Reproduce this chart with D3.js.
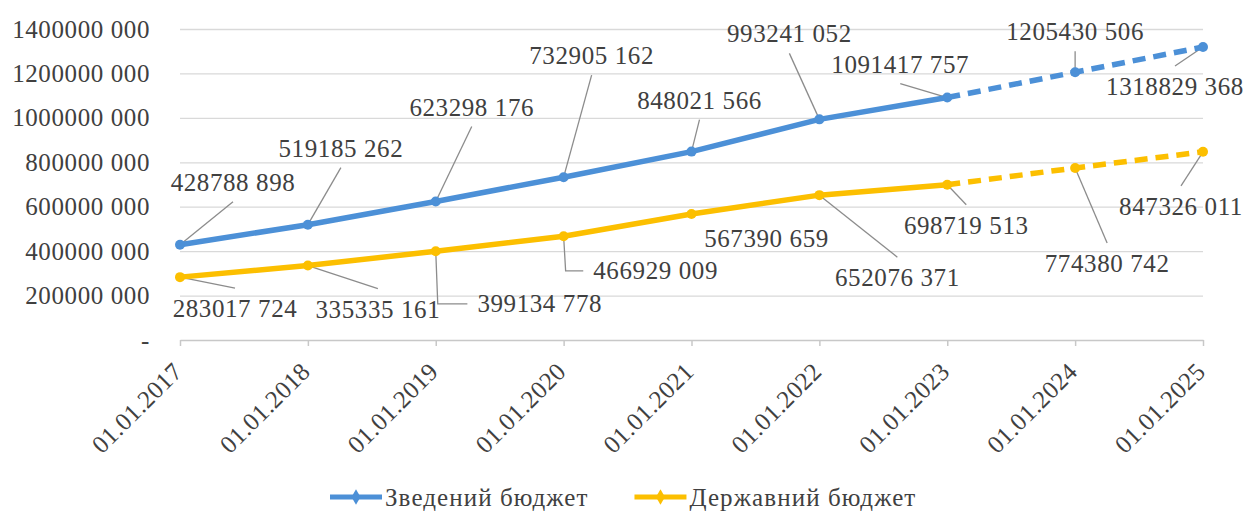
<!DOCTYPE html>
<html>
<head>
<meta charset="utf-8">
<script src="https://cdn.jsdelivr.net/npm/d3@7/dist/d3.min.js"></script>
<style>
  body { margin: 0; background: #fff; }
  text { font-family: "Liberation Serif", "Times New Roman", serif; fill: #404040; }
</style>
</head>
<body>
<svg id="chart"></svg>
<script>
/* data */
var dates = ["01.01.2017", "01.01.2018", "01.01.2019", "01.01.2020", "01.01.2021",
             "01.01.2022", "01.01.2023", "01.01.2024", "01.01.2025"];
var zvedenyi   = [428788898, 519185262, 623298176, 732905162, 848021566,
                  993241052, 1091417757, 1205430506, 1318829368];
var derzhavnyi = [283017724, 335335161, 399134778, 466929009, 567390659,
                  652076371, 698719513, 774380742, 847326011];
var seriesNames = ["Зведений бюджет", "Державний бюджет"];
var yTicks = [0, 200000000, 400000000, 600000000, 800000000, 1000000000, 1200000000, 1400000000];
var yTickLabels = ["-", "200000 000", "400000 000", "600000 000", "800000 000",
                   "1000000 000", "1200000 000", "1400000 000"];
var forecastFrom = "01.01.2023"; // dashed after this date

/* label placement: offset of label centre/baseline from the point, leader type */
var blueLabels = [[53,-54,"v"],[33,-68,"v"],[36,-86,"v"],[28,-113,"v"],[8,-43,"v"],
                  [-30,-77,"v"],[-47,-25,"v"],[0,-32,"v"],[-28,48,"v"]];
var yellowLabels = [[55,40,"v"],[70,52,"v"],[104,61,"elbow"],[92,43,"elbow"],[75,33,"none"],
                    [78,91,"v"],[19,49,"v"],[32,104,"v"],[-22,63,"v"]];

var width = 1247, height = 514;
var blue = "#4C90D7", yellow = "#FCBF00";
var fontSize = "25px", spacing = "0.6px";

var svg = d3.select("#chart").attr("width", width).attr("height", height);

var x = d3.scalePoint().domain(dates).range([180, 1203]);
var y = d3.scaleLinear().domain([0, 1400000000]).range([340, 29]);

/* gridlines */
svg.append("g")
  .attr("class", "grid")
  .attr("transform", "translate(180,0)")
  .call(d3.axisLeft(y).tickValues(yTicks.slice(1)).tickSize(-(1203 - 180)).tickFormat(""))
  .call(function(g){ g.select(".domain").remove(); })
  .selectAll("line").attr("stroke", "#d9d9d9").attr("stroke-width", 1.3);

/* y labels */
svg.append("g")
  .attr("transform", "translate(180,0)")
  .call(d3.axisLeft(y).tickValues(yTicks).tickSize(0).tickPadding(30)
        .tickFormat(function(d, i){ return yTickLabels[i]; }))
  .call(function(g){ g.select(".domain").remove(); })
  .selectAll("text")
    .attr("fill", "#404040")
    .style("font-size", fontSize)
    .style("letter-spacing", spacing);

/* x axis */
var xAxisG = svg.append("g")
  .attr("transform", "translate(0,340)")
  .call(d3.axisBottom(x).tickSize(6).tickSizeOuter(0));
xAxisG.select(".domain").attr("stroke", "#c8c8c8").attr("stroke-width", 1.5);
xAxisG.selectAll(".tick line").attr("stroke", "#c8c8c8").attr("stroke-width", 1.5);
xAxisG.selectAll("text")
  .attr("fill", "#404040")
  .attr("x", 0).attr("y", 0).attr("dy", "0.35em")
  .attr("transform", "translate(-3,27) rotate(-45)")
  .style("text-anchor", "end")
  .style("font-size", fontSize)
  .style("letter-spacing", "0.3px");

var leaderG = svg.append("g");
var seriesG = svg.append("g");
var labelG = svg.append("g");

/* lines */
var line = d3.line()
  .x(function(d){ return x(d.date); })
  .y(function(d){ return y(d.value); });

function fmt(v){
  var s = String(v);
  return s.slice(0, -3) + " " + s.slice(-3);
}

var cut = dates.indexOf(forecastFrom);

function drawSeries(values, color, labels){
  var pts = values.map(function(v, i){ return {date: dates[i], value: v}; });

  seriesG.append("path").datum(pts.slice(0, cut + 1))
    .attr("d", line).attr("fill", "none")
    .attr("stroke", color).attr("stroke-width", 5.5).attr("stroke-linecap", "round");
  seriesG.append("path").datum(pts.slice(cut))
    .attr("d", line).attr("fill", "none")
    .attr("stroke", color).attr("stroke-width", 5.5)
    .attr("stroke-dasharray", "13,8");

  seriesG.selectAll(null).data(pts).enter().append("circle")
    .attr("cx", function(d){ return x(d.date); })
    .attr("cy", function(d){ return y(d.value); })
    .attr("r", 5)
    .attr("fill", color);

  // data labels + leader lines
  pts.forEach(function(d, i){
    var px = x(d.date), py = y(d.value), o = labels[i];
    var t = labelG.append("text")
      .attr("x", px + o[0]).attr("y", py + o[1])
      .attr("text-anchor", "middle")
      .style("font-size", fontSize)
      .style("letter-spacing", spacing)
      .text(fmt(d.value));
    var b = t.node().getBBox();
    var pts2;
    if (o[2] == "v") {
      var cx = b.x + b.width / 2;
      var ey = b.y > py ? b.y - 7 : b.y + b.height + 6;
      pts2 = [[px, py], [cx, ey]];
    } else if (o[2] == "elbow") {
      var my = b.y + b.height / 2;
      pts2 = [[px, py], [px + 2, my], [b.x - 10, my]];
    } else {
      return;
    }
    leaderG.append("path")
      .attr("d", d3.line()(pts2))
      .attr("fill", "none")
      .attr("stroke", "#8c8c8c")
      .attr("stroke-width", 1.3);
  });
}

drawSeries(zvedenyi, blue, blueLabels);
drawSeries(derzhavnyi, yellow, yellowLabels);

/* legend */
var legend = svg.append("g").attr("transform", "translate(330,497)");
var colors = [blue, yellow];
var lx = 0;
seriesNames.forEach(function(name, i){
  var g = legend.append("g").attr("transform", "translate(" + lx + ",0)");
  g.append("line").attr("x1", 0).attr("x2", 52).attr("y1", 0).attr("y2", 0)
    .attr("stroke", colors[i]).attr("stroke-width", 5);
  g.append("path").attr("d", d3.symbol(d3.symbolDiamond, 70)())
    .attr("transform", "translate(26,0)").attr("fill", colors[i]);
  var t = g.append("text").attr("x", 55).attr("dy", "0.35em")
    .style("font-size", "25px").style("letter-spacing", "1.1px").text(name);
  lx += 55 + t.node().getComputedTextLength() + 46;
});
</script>
</body>
</html>
